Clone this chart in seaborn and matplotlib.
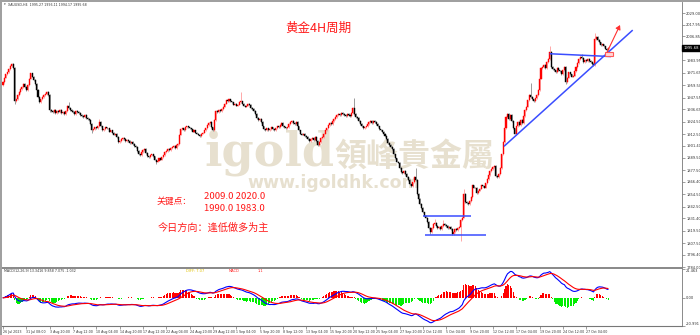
import numpy as np
import pandas as pd
import matplotlib
matplotlib.use("Agg")
import matplotlib.pyplot as plt
import seaborn as sns
from matplotlib.patches import Rectangle, FancyArrowPatch

sns.set_theme(style="white")
plt.rcParams['font.family'] = ['DejaVu Sans']

# ---------------- data ----------------
closes = [
    1963,1967,1970,1972,1975,1978,1980,1976,1944,1946,1950,1953,1956,1958,1961,1958,1955,1960,1966,1971,
    1968,1965,1961,1955,1948,1943,1946,1948,1950,1951,1953,1950,1936,1935,1934,1936,1933,1935,1934,1936,
    1933,1934,1932,1935,1940,1938,1936,1935,1934,1932,1935,1934,1933,1931,1930,1929,1931,1928,1927,1926,
    1922,1916,1917,1919,1918,1920,1924,1920,1916,1917,1919,1918,1918,1915,1916,1914,1912,1913,1910,1905,
    1906,1908,1909,1908,1906,1907,1906,1904,1905,1903,1901,1900,1896,1893,1892,1895,1897,1898,1894,1891,
    1890,1892,1893,1891,1888,1886,1887,1889,1888,1890,1892,1895,1896,1898,1897,1899,1900,1901,1899,1902,
    1903,1912,1917,1918,1916,1919,1920,1919,1918,1917,1915,1916,1914,1913,1912,1911,1913,1914,1916,1918,
    1921,1923,1924,1919,1916,1926,1935,1934,1936,1935,1937,1939,1942,1945,1944,1946,1944,1943,1941,1942,
    1940,1941,1943,1944,1942,1940,1939,1940,1942,1941,1938,1937,1935,1932,1928,1926,1927,1924,1920,1917,
    1916,1918,1916,1917,1919,1917,1916,1918,1920,1919,1921,1923,1920,1919,1918,1919,1922,1924,1925,1923,
    1922,1924,1920,1916,1913,1912,1913,1911,1910,1908,1906,1908,1909,1907,1910,1906,1902,1905,1909,1910,
    1913,1916,1918,1921,1923,1922,1925,1927,1929,1931,1932,1931,1933,1932,1931,1930,1932,1931,1930,1933,
    1938,1932,1929,1928,1925,1922,1920,1918,1919,1920,1922,1924,1925,1923,1925,1924,1922,1920,1917,1916,
    1915,1913,1911,1908,1904,1902,1900,1898,1893,1889,1886,1885,1880,1876,1875,1877,1874,1871,1868,1864,
    1862,1866,1871,1868,1855,1850,1845,1841,1837,1834,1832,1828,1822,1818,1822,1826,1827,1824,1822,1823,
    1821,1824,1826,1825,1824,1822,1823,1821,1816,1818,1821,1820,1822,1823,1830,1832,1855,1847,1846,1845,
    1848,1852,1863,1861,1861,1856,1858,1860,1863,1862,1861,1865,1869,1873,1877,1879,1881,1882,1872,1871,
    1874,1880,1893,1905,1918,1929,1932,1927,1931,1925,1918,1913,1920,1924,1921,1926,1923,1930,1936,1939,
    1945,1950,1948,1946,1944,1947,1950,1955,1966,1976,1977,1979,1976,1982,1985,1992,1977,1975,1974,1972,
    1976,1974,1973,1970,1974,1977,1963,1967,1972,1970,1968,1969,1973,1977,1981,1985,1987,1986,1982,1984,
    1983,1985,1983,1982,1980,1979,2004,2006,2003,2001,1998,1999,1997,1995,1993.5,1995.68,
]
first_open = 1960.0
spike_highs = {45: 1943, 66: 1927, 163: 1953, 241: 1947, 283: 1880, 296: 1831,
               302: 1830, 316: 1860, 362: 1962, 375: 1997, 397: 1990, 406: 2009.6}
spike_lows = {8: 1942, 32: 1934, 61: 1914, 105: 1884, 216: 1901, 293: 1816,
              314: 1809.6, 386: 1961}

price_tick_values = [2029.00, 2017.95, 2006.85, 1983.95, 1971.65, 1959.50, 1947.55,
                     1936.65, 1924.50, 1912.50, 1901.40, 1889.50, 1877.50, 1866.40,
                     1854.50, 1842.50, 1831.40, 1819.50, 1807.50, 1796.40, 1784.00]
current_price = "1995.68"

date_labels = ["26 Jul 2023", "31 Jul 08:00", "3 Aug 20:00", "7 Aug 12:00", "10 Aug 04:00",
               "14 Aug 20:00", "17 Aug 12:00", "22 Aug 04:00", "24 Aug 20:00", "29 Aug 12:00",
               "1 Sep 04:00", "5 Sep 20:00", "8 Sep 12:00", "13 Sep 04:00", "15 Sep 20:00",
               "20 Sep 12:00", "25 Sep 04:00", "27 Sep 20:00", "2 Oct 12:00", "5 Oct 04:00",
               "9 Oct 20:00", "12 Oct 12:00", "17 Oct 04:00", "19 Oct 20:00", "24 Oct 12:00",
               "27 Oct 04:00"]
date_label_bars = list(range(0, 401, 16))

macd_tick_values = [21.463, 0.0, -20.991]
macd_tick_labels = ["21.463", "0.00", "-20.991"]

# drawn lines (bar index, price)
box_upper = [(287.9, 1833.1), (321.0, 1833.1)]
box_lower = [(289.4, 1815.7), (331.3, 1815.7)]
trend_line = [(343.6, 1900.7), (431.9, 2012.8)]
flat_top = [(374.9, 1990.0), (417.0, 1987.3)]
mark_rect = (412.9, 1987.7, 5.3, 4.1)
arrow_line = [(414.3, 1991.5), (423.2, 2017.7)]

title = "黄金4H周期"
key_label = "关键点："
key_row1 = "2009.0 2020.0"
key_row2 = "1990.0 1983.0"
direction = "今日方向：逢低做多为主"

# ---------------- build OHLC ----------------
n = len(closes)
idx = np.arange(n)
c = np.array(closes, dtype=float)
o = np.concatenate([[first_open], c[:-1]])
wick_pad = 0.8
h = np.maximum(o, c) + wick_pad
l = np.minimum(o, c) - wick_pad
for k, v in spike_highs.items():
    h[k] = max(h[k], v)
for k, v in spike_lows.items():
    l[k] = min(l[k], v)
up = c >= o

s = pd.Series(c)
dif = s.ewm(span=12, adjust=False).mean() - s.ewm(span=26, adjust=False).mean()
dea = dif.ewm(span=9, adjust=False).mean()
hist = 2 * (dif - dea)

W, H = 700, 335
fig = plt.figure(figsize=(7, 3.35), dpi=100)
fig.patch.set_facecolor("white")

px_per_bar = 1.458
x0 = -1.0 / px_per_bar
x1 = x0 + 680 / px_per_bar

ax = fig.add_axes([2 / W, 1 - 268 / H, 680 / W, 266 / H])
axm = fig.add_axes([2 / W, 1 - 326 / H, 680 / W, 57 / H], sharex=ax)

# candles
ax.vlines(idx[up], l[up], h[up], color="#ff9a9a", lw=0.6, zorder=2)
ax.vlines(idx[~up], l[~up], h[~up], color="#8a8a8a", lw=0.6, zorder=2)
ax.bar(idx[up], (c - o)[up], bottom=o[up], width=0.7, color="#ff0000",
       edgecolor="#ff0000", linewidth=0.3, zorder=3)
ax.bar(idx[~up], (c - o)[~up], bottom=o[~up], width=0.7, color="#000000",
       edgecolor="#000000", linewidth=0.3, zorder=3)

ax.set_xlim(x0, x1)
ax.set_ylim(1783.4, 2039.9)
ax.yaxis.tick_right()
ax.set_yticks(price_tick_values)
ax.set_yticklabels([f"{v:.2f}" for v in price_tick_values])
ax.tick_params(axis="y", which="both", right=True, length=2, width=0.4, color="#555555",
               labelsize=2.6, labelcolor="#333333", pad=1)
ax.tick_params(axis="x", bottom=False, labelbottom=False)
for sp in ["top", "left"]:
    ax.spines[sp].set_visible(False)
ax.spines["right"].set_color("#777777")
ax.spines["right"].set_linewidth(0.6)
ax.spines["bottom"].set_color("#888888")
ax.spines["bottom"].set_linewidth(1.4)
ax.grid(False)

# drawn objects
blue = "#3a4dff"
for seg in [box_upper, box_lower, trend_line, flat_top]:
    ax.plot([seg[0][0], seg[1][0]], [seg[0][1], seg[1][1]], color=blue, lw=1.1, zorder=4,
            solid_capstyle="butt")
ax.add_patch(Rectangle((mark_rect[0], mark_rect[1]), mark_rect[2], mark_rect[3],
                       facecolor="#ffd6d6", edgecolor="#ff5a5a", lw=0.8, zorder=5))
ax.add_patch(FancyArrowPatch(arrow_line[0], arrow_line[1], arrowstyle="-|>,head_length=2.5,head_width=1.5",
                             color="#ff3030", lw=0.8, zorder=6, shrinkA=0, shrinkB=0))

# current price box
ax.annotate(current_price, xy=(1.0, 1995.68), xycoords=("axes fraction", "data"),
            xytext=(1.2, 0), textcoords="offset points", ha="left", va="center",
            fontsize=2.7, color="white",
            bbox=dict(boxstyle="square,pad=0.35", fc="black", ec="black"),
            annotation_clip=False)

# watermark
wm = "#e7e0cf"
ax.text(204 / W, 1 - 165 / H, "igold", transform=fig.transFigure, fontsize=33,
        family="DejaVu Serif", fontweight="bold", color=wm, ha="left", va="baseline", zorder=0.5)
ax.text(334 / W, 1 - 157 / H, "領峰貴金屬", transform=fig.transFigure, fontsize=23,
        family=["Noto Sans CJK TC"], fontweight="bold", color=wm, ha="left", va="center", zorder=0.5)
ax.text(247 / W, 1 - 183 / H, "www.igoldhk.com", transform=fig.transFigure, fontsize=12.5,
        fontweight="bold", color=wm, ha="left", va="center", zorder=0.5)

# MACD panel
axm.bar(idx[hist >= 0], hist[hist >= 0], width=0.75, color="#ff0000", linewidth=0, zorder=2)
axm.bar(idx[hist < 0], hist[hist < 0], width=0.75, color="#00ee00", linewidth=0, zorder=2)
sns.lineplot(x=idx, y=dif.values, ax=axm, color="#0000ff", lw=0.8, zorder=3)
sns.lineplot(x=idx, y=dea.values, ax=axm, color="#ff0000", lw=0.8, zorder=4)
axm.set_ylim(-20.991, 21.463)
axm.set_xlim(x0, x1)
axm.yaxis.tick_right()
axm.set_yticks(macd_tick_values)
axm.set_yticklabels(macd_tick_labels)
axm.tick_params(axis="y", right=True, length=2, width=0.4, color="#555555",
                labelsize=2.6, labelcolor="#333333", pad=1)
labs = axm.get_yticklabels()
labs[0].set_va("top")
labs[2].set_va("bottom")
axm.set_xticks(date_label_bars)
axm.set_xticklabels(date_labels)
axm.tick_params(axis="x", bottom=True, length=2, width=0.4, color="#555555",
                labelsize=2.3, labelcolor="#333333", pad=0.8)
for t in axm.get_xticklabels():
    t.set_ha("left")
for sp in ["top", "left"]:
    axm.spines[sp].set_visible(False)
axm.spines["right"].set_color("#777777")
axm.spines["right"].set_linewidth(0.6)
axm.spines["bottom"].set_color("#777777")
axm.spines["bottom"].set_linewidth(0.8)
axm.set_xlabel("")
axm.set_ylabel("")
axm.grid(False)

# frame strips
fig.patches.append(Rectangle((0, 1 - 2 / H), 1, 2 / H, transform=fig.transFigure,
                             facecolor="#a0a0a0", edgecolor="none"))
fig.patches.append(Rectangle((0, 0), 2 / W, 1, transform=fig.transFigure,
                             facecolor="#a0a0a0", edgecolor="none"))

# texts
fig.text(4 / W, 1 - 4.5 / H, "▾", fontsize=2.5, color="#333333", va="center")
fig.text(8 / W, 1 - 4.5 / H, "XAUUSD,H4  1995.27 1996.11 1994.17 1995.68", fontsize=2.3,
         color="#333333", va="center")
fig.text(4 / W, 1 - 271 / H, "MACD(12,26,9) 13.3416 9.858 7.075 -1.032", fontsize=2.3,
         color="#333333", va="center")
fig.text(186 / W, 1 - 271 / H, "DIFF: 7.07", fontsize=2.6, color="#e0c000", va="center")
fig.text(229 / W, 1 - 271 / H, "MACD", fontsize=2.6, color="#ff2020", va="center")
fig.text(258 / W, 1 - 271 / H, "1.1", fontsize=2.6, color="#ff2020", va="center")

red = "#ff1a1a"
cjk = ["Noto Sans CJK SC", "DejaVu Sans"]
fig.text(318 / W, 1 - 28 / H, title, fontsize=9, color=red, family=cjk, ha="center", va="center")
fig.text(156.5 / W, 1 - 201.5 / H, key_label, fontsize=6.3, color=red, family=cjk, va="center")
fig.text(204 / W, 1 - 196 / H, key_row1, fontsize=6.9, color=red, family=cjk, va="center")
fig.text(204 / W, 1 - 208.5 / H, key_row2, fontsize=6.9, color=red, family=cjk, va="center")
fig.text(158 / W, 1 - 227.5 / H, direction, fontsize=7.3, color=red, family=cjk, va="center")

fig.savefig("out.png", dpi=100, facecolor="white")
